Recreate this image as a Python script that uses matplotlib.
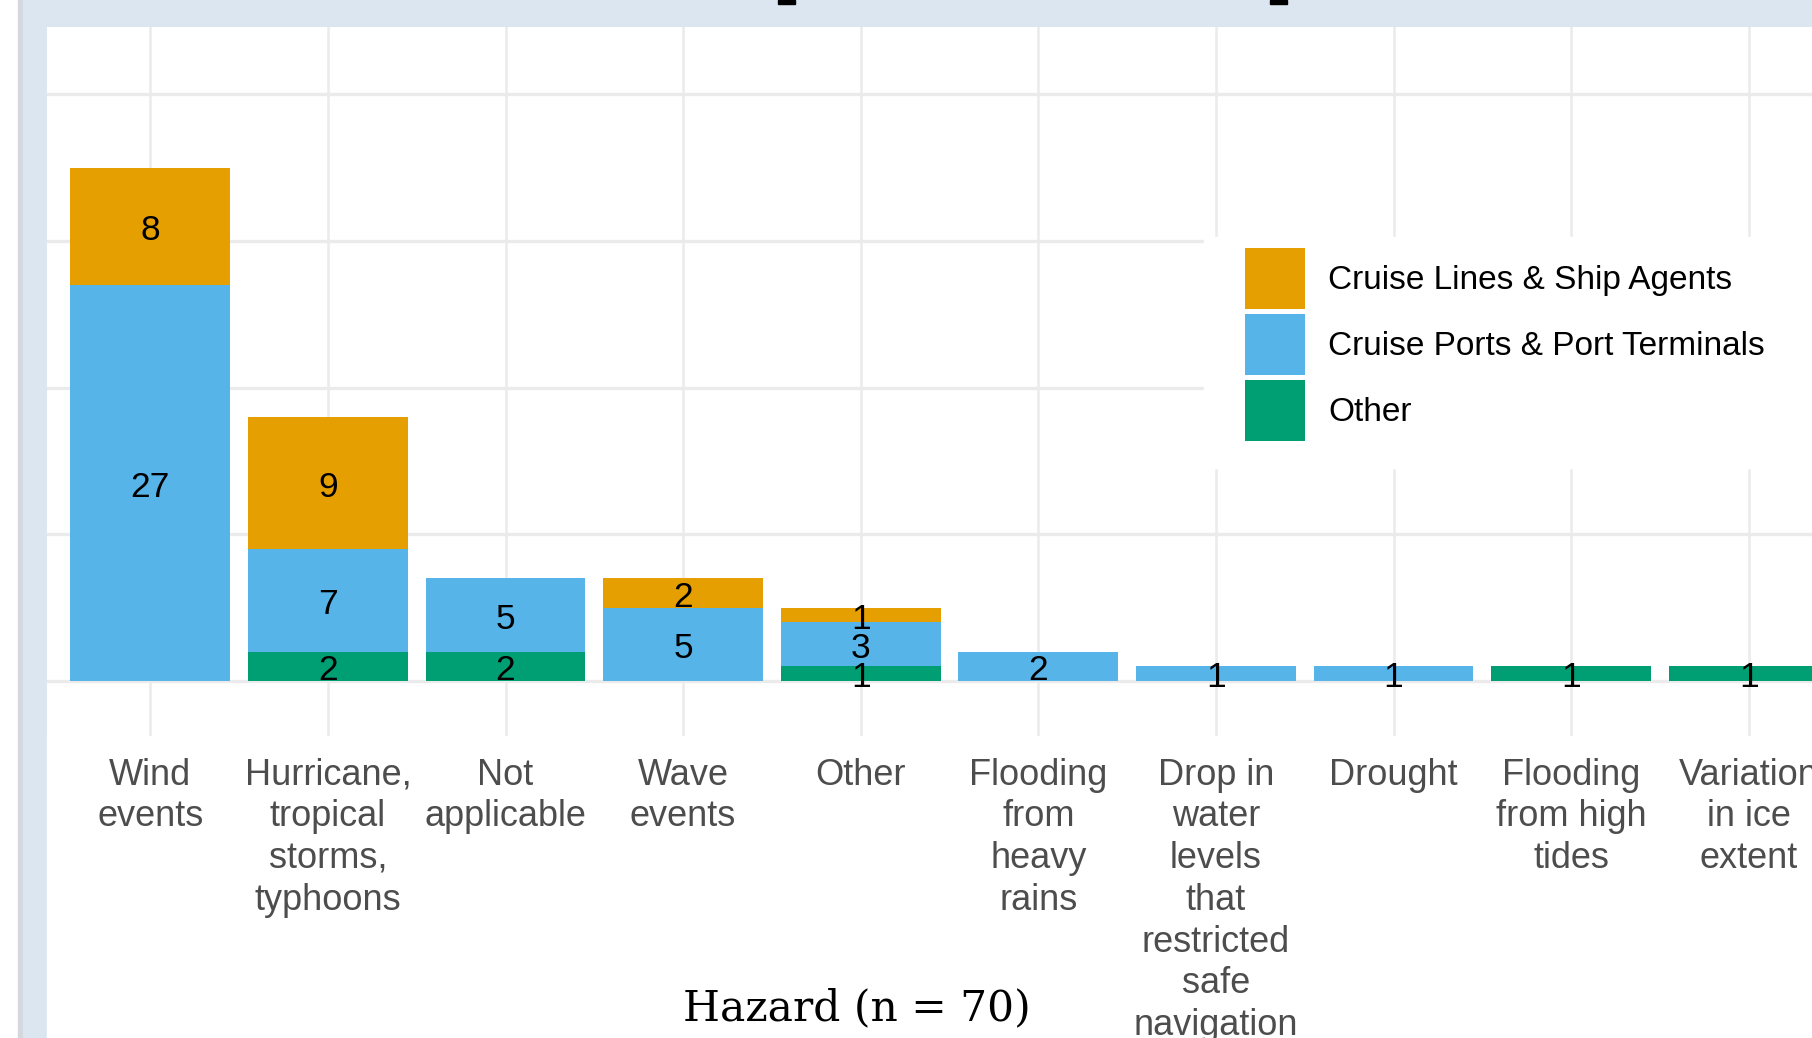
import numpy as np
import matplotlib
matplotlib.use("Agg")
import matplotlib.pyplot as plt
from matplotlib.patches import Rectangle, Patch

# ---------------------------------------------------------------------------
# DATA
# ---------------------------------------------------------------------------
hazards = [
    "Wind\nevents",
    "Hurricane,\ntropical\nstorms,\ntyphoons",
    "Not\napplicable",
    "Wave\nevents",
    "Other",
    "Flooding\nfrom\nheavy\nrains",
    "Drop in\nwater\nlevels\nthat\nrestricted\nsafe\nnavigation",
    "Drought",
    "Flooding\nfrom high\ntides",
    "Variation\nin ice\nextent",
]
other = [0, 2, 2, 0, 1, 0, 0, 0, 1, 1]
ports = [27, 7, 5, 5, 3, 2, 1, 1, 0, 0]
lines = [8, 9, 0, 2, 1, 0, 0, 0, 0, 0]

groups = ["Other", "Cruise Ports & Port Terminals", "Cruise Lines & Ship Agents"]
colors = {"Other": "#009E73",
          "Cruise Ports & Port Terminals": "#56B4E9",
          "Cruise Lines & Ship Agents": "#E69F00"}
y_ticks = [0, 10, 20, 30, 40]
x_title = "Hazard (n = 70)"

# ---------------------------------------------------------------------------
# FIGURE
# ---------------------------------------------------------------------------
W, H = 1812, 1038
fig = plt.figure(figsize=(W / 100, H / 100), dpi=100)
fig.patch.set_facecolor("white")

# screenshot frame: left strip and top band
fig.patches.append(Rectangle((0, 0), 18 / W, 1, transform=fig.transFigure,
                             color="white", zorder=0))
fig.patches.append(Rectangle((18 / W, 0), 5 / W, 1, transform=fig.transFigure,
                             color="#d4d8dd", zorder=0))
fig.patches.append(Rectangle((23 / W, 0), 1 - 23 / W, 1, transform=fig.transFigure,
                             color="#dce6f1", zorder=0))

# plot panel in pixel terms
left_px, top_px, bottom_px = 47, 27, 736
base_px, unit_px = 681, 14.67
x1_px, step_px = 150.3, 177.6

ax = fig.add_axes([left_px / W, (H - bottom_px) / H,
                   1 - left_px / W, (bottom_px - top_px) / H])
ax.set_facecolor("white")
ax.set_zorder(1)

x = np.arange(1, len(hazards) + 1)
ax.set_xlim(1 - (x1_px - left_px) / step_px, 10 + (W - (x1_px + 9 * step_px)) / step_px)
ax.set_ylim(-(bottom_px - base_px) / unit_px, (base_px - top_px) / unit_px)

# white area under the panel (tick labels + title)
fig.patches.append(Rectangle((left_px / W, 0), 1, (H - bottom_px) / H,
                             transform=fig.transFigure, color="white", zorder=0.5))

for yt in y_ticks:
    ax.axhline(yt, color="#ebebeb", lw=2.4, zorder=0)
for xi in x:
    ax.axvline(xi, color="#ebebeb", lw=1.8, zorder=0)

bottom = np.zeros(len(hazards))
for name, vals in zip(groups, [other, ports, lines]):
    vals = np.array(vals, dtype=float)
    ax.bar(x, vals, width=0.9, bottom=bottom, color=colors[name], zorder=2)
    for xi, b, v in zip(x, bottom, vals):
        if v > 0:
            ax.annotate(f"{int(v)}", (xi, b + v / 2), xytext=(0, -3),
                        textcoords="offset points", ha="center", va="center",
                        fontsize=25.5, color="black", family="Liberation Sans",
                        zorder=3)
    bottom += vals

for s in ax.spines.values():
    s.set_visible(False)
ax.set_yticks([])
ax.set_xticks(x)
ax.set_xticklabels(hazards, fontsize=26, color="#4d4d4d",
                   family="Liberation Sans", linespacing=1.25, va="top")
ax.tick_params(axis="x", length=0, pad=15.5)

# x title
fig.text(857 / W, 1 - 1008 / H, x_title, ha="center", va="center",
         fontsize=30.5, family="DejaVu Serif", color="black", zorder=5)

# legend background box
fig.patches.append(Rectangle((1204 / W, 1 - 468 / H), 1, (468 - 237) / H,
                             transform=fig.transFigure, color="white", zorder=4))
handles = [Patch(facecolor=colors[g], edgecolor="none") for g in groups[::-1]]
leg = fig.legend(handles, groups[::-1], loc="upper left",
                 bbox_to_anchor=(1245 / W, 1 - 248 / H), frameon=False,
                 borderpad=0, borderaxespad=0, handlelength=1.8, handleheight=2.44,
                 labelspacing=0.15, handletextpad=0.69,
                 prop={"family": "Liberation Sans", "size": 24})
leg.set_zorder(6)

# cut-off title fragments at the top edge
for xs in (778, 1270):
    fig.patches.append(Rectangle((xs / W, 1 - 4 / H), 17 / W, 4 / H,
                                 transform=fig.transFigure, color="black", zorder=5))

fig.savefig("out.png", dpi=100)
